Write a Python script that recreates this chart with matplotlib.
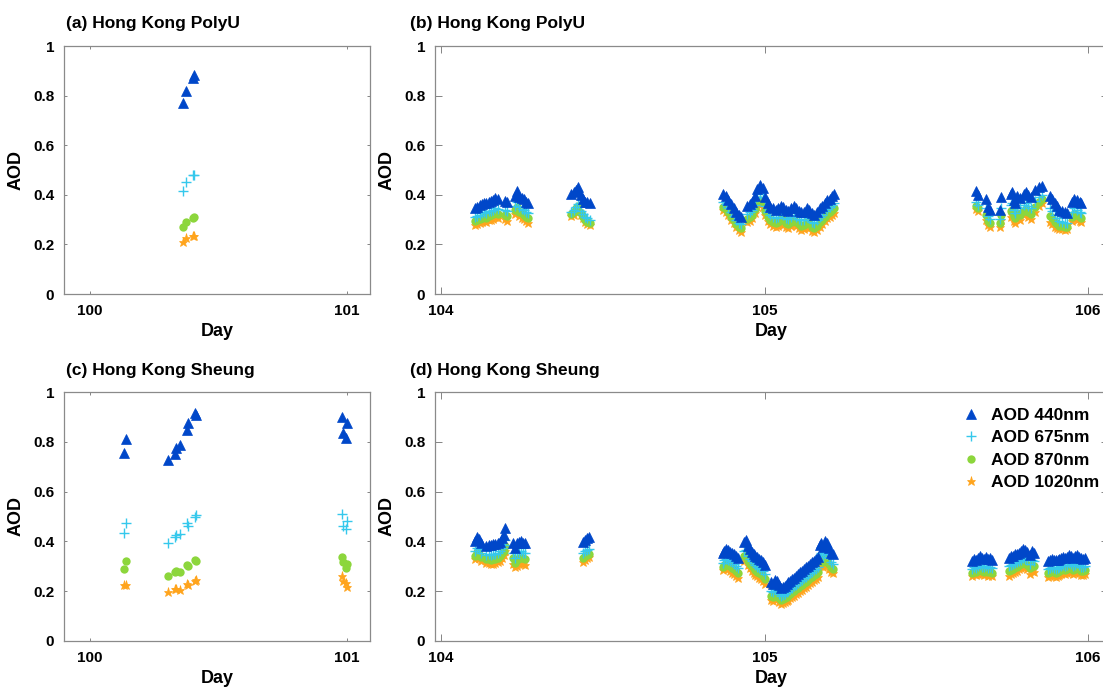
import numpy as np
import matplotlib
matplotlib.use('Agg')
import matplotlib.pyplot as plt

plt.rcParams['font.family'] = ['Liberation Sans', 'DejaVu Sans']
plt.rcParams['font.weight'] = 'bold'

# ---- data: day of year and AOD per wavelength ----
# (a) Hong Kong PolyU, day 100
a_day = [100.362, 100.374, 100.400, 100.404]
a_440 = [0.772, 0.820, 0.872, 0.884]
a_675 = [0.416, 0.450, 0.478, 0.480]
a_870 = [0.272, 0.290, 0.306, 0.310]
a_1020 = [0.210, 0.224, 0.232, 0.234]

# (b) Hong Kong PolyU, days 104-106
b_day = [104.105, 104.112, 104.119, 104.126, 104.133, 104.140, 104.147, 104.154, 104.161, 104.168,
         104.175, 104.198, 104.205, 104.228, 104.235, 104.242, 104.249, 104.256, 104.263, 104.270,
         104.403, 104.410, 104.417, 104.424, 104.431, 104.438, 104.445, 104.452, 104.459,
         104.872, 104.880, 104.888, 104.896, 104.904, 104.912, 104.920, 104.928, 104.946, 104.954,
         104.962, 104.970, 104.978, 104.986, 104.994, 105.002, 105.010, 105.018, 105.026, 105.034,
         105.042, 105.050, 105.058, 105.066, 105.074, 105.082, 105.090, 105.098, 105.106, 105.114,
         105.122, 105.130, 105.138, 105.146, 105.154, 105.162, 105.170, 105.178, 105.186, 105.194,
         105.202, 105.210, 105.216,
         105.653, 105.660, 105.684, 105.692, 105.698, 105.728, 105.732, 105.762, 105.766, 105.770,
         105.775, 105.782, 105.790, 105.802, 105.808, 105.816, 105.824, 105.836, 105.848, 105.857,
         105.884, 105.890, 105.898, 105.904, 105.912, 105.920, 105.928, 105.936, 105.950, 105.958,
         105.966, 105.974, 105.980]
b_440 = [0.345, 0.352, 0.357, 0.362, 0.368, 0.366, 0.372, 0.375, 0.380, 0.388,
         0.384, 0.377, 0.372, 0.395, 0.415, 0.392, 0.386, 0.382, 0.372, 0.368,
         0.405, 0.412, 0.420, 0.430, 0.398, 0.385, 0.372, 0.370, 0.368,
         0.405, 0.395, 0.380, 0.362, 0.345, 0.330, 0.318, 0.312, 0.355, 0.362,
         0.372, 0.395, 0.425, 0.440, 0.428, 0.390, 0.365, 0.350, 0.345, 0.340,
         0.345, 0.355, 0.350, 0.338, 0.335, 0.345, 0.355, 0.345, 0.335, 0.330,
         0.332, 0.345, 0.340, 0.325, 0.318, 0.330, 0.345, 0.355, 0.368, 0.378,
         0.385, 0.395, 0.402,
         0.415, 0.400, 0.384, 0.350, 0.338, 0.337, 0.390, 0.405, 0.412, 0.378,
         0.365, 0.395, 0.388, 0.405, 0.412, 0.398, 0.392, 0.420, 0.430, 0.436,
         0.395, 0.385, 0.365, 0.355, 0.340, 0.335, 0.330, 0.325, 0.370, 0.385,
         0.380, 0.372, 0.365]
b_675 = [0.310, 0.316, 0.320, 0.325, 0.330, 0.326, 0.333, 0.336, 0.340, 0.348,
         0.344, 0.338, 0.333, 0.356, 0.372, 0.350, 0.344, 0.340, 0.330, 0.326,
         0.330, 0.338, 0.352, 0.362, 0.335, 0.322, 0.310, 0.305, 0.300,
         0.372, 0.362, 0.348, 0.330, 0.314, 0.300, 0.288, 0.282, 0.322, 0.330,
         0.339, 0.360, 0.390, 0.402, 0.392, 0.355, 0.332, 0.318, 0.312, 0.308,
         0.312, 0.321, 0.317, 0.305, 0.302, 0.312, 0.320, 0.312, 0.302, 0.297,
         0.299, 0.310, 0.306, 0.292, 0.286, 0.297, 0.310, 0.320, 0.333, 0.343,
         0.350, 0.359, 0.366,
         0.372, 0.360, 0.345, 0.315, 0.303, 0.302, 0.345, 0.360, 0.367, 0.337,
         0.326, 0.352, 0.345, 0.360, 0.367, 0.354, 0.348, 0.375, 0.392, 0.400,
         0.346, 0.336, 0.318, 0.308, 0.296, 0.292, 0.288, 0.285, 0.330, 0.345,
         0.340, 0.332, 0.326]
b_870 = [0.293, 0.298, 0.302, 0.306, 0.311, 0.308, 0.314, 0.317, 0.321, 0.328,
         0.324, 0.318, 0.313, 0.338, 0.352, 0.331, 0.325, 0.320, 0.311, 0.306,
         0.322, 0.330, 0.348, 0.356, 0.326, 0.312, 0.298, 0.292, 0.288,
         0.352, 0.344, 0.330, 0.312, 0.297, 0.283, 0.271, 0.265, 0.304, 0.311,
         0.320, 0.341, 0.369, 0.380, 0.369, 0.334, 0.311, 0.298, 0.292, 0.288,
         0.292, 0.301, 0.297, 0.286, 0.282, 0.291, 0.299, 0.291, 0.281, 0.276,
         0.278, 0.289, 0.285, 0.272, 0.266, 0.276, 0.289, 0.299, 0.312, 0.322,
         0.329, 0.337, 0.345,
         0.355, 0.346, 0.320, 0.294, 0.286, 0.285, 0.320, 0.334, 0.340, 0.314,
         0.305, 0.326, 0.319, 0.336, 0.343, 0.329, 0.322, 0.350, 0.372, 0.384,
         0.315, 0.306, 0.292, 0.284, 0.276, 0.274, 0.271, 0.270, 0.310, 0.322,
         0.317, 0.310, 0.305]
b_1020 = [0.278, 0.282, 0.286, 0.290, 0.294, 0.291, 0.297, 0.300, 0.304, 0.310,
          0.307, 0.301, 0.296, 0.322, 0.338, 0.315, 0.308, 0.302, 0.293, 0.288,
          0.315, 0.320, 0.335, 0.340, 0.318, 0.305, 0.290, 0.282, 0.278,
          0.340, 0.332, 0.318, 0.300, 0.285, 0.270, 0.258, 0.252, 0.290, 0.296,
          0.305, 0.325, 0.352, 0.362, 0.350, 0.318, 0.295, 0.282, 0.276, 0.272,
          0.276, 0.284, 0.280, 0.270, 0.266, 0.274, 0.282, 0.274, 0.265, 0.260,
          0.262, 0.272, 0.268, 0.255, 0.250, 0.260, 0.272, 0.282, 0.295, 0.305,
          0.312, 0.320, 0.328,
          0.342, 0.335, 0.300, 0.278, 0.272, 0.270, 0.300, 0.312, 0.318, 0.296,
          0.288, 0.305, 0.298, 0.318, 0.325, 0.310, 0.302, 0.330, 0.355, 0.368,
          0.290, 0.282, 0.272, 0.266, 0.262, 0.262, 0.260, 0.262, 0.295, 0.305,
          0.300, 0.294, 0.290]

# (c) Hong Kong Sheung, days 100-101
c_day = [100.133, 100.140, 100.302, 100.330, 100.333, 100.350, 100.377, 100.381, 100.410, 100.414,
         100.980, 100.985, 100.995, 101.000]
c_440 = [0.756, 0.812, 0.728, 0.752, 0.776, 0.788, 0.848, 0.876, 0.916, 0.908,
         0.900, 0.836, 0.816, 0.876]
c_675 = [0.432, 0.472, 0.392, 0.416, 0.424, 0.428, 0.472, 0.462, 0.500, 0.506,
         0.512, 0.460, 0.448, 0.480]
c_870 = [0.288, 0.320, 0.260, 0.276, 0.280, 0.276, 0.304, 0.300, 0.324, 0.320,
         0.336, 0.316, 0.292, 0.310]
c_1020 = [0.224, 0.226, 0.196, 0.208, 0.210, 0.204, 0.228, 0.226, 0.240, 0.246,
          0.260, 0.240, 0.232, 0.216]

# (d) Hong Kong Sheung, days 104-106
d_day = [104.104, 104.110, 104.116, 104.122, 104.140, 104.147, 104.154, 104.161, 104.168, 104.175,
         104.182, 104.189, 104.194, 104.198, 104.222, 104.228, 104.234, 104.240, 104.246, 104.252,
         104.258,
         104.440, 104.446, 104.452, 104.458,
         104.870, 104.876, 104.882, 104.888, 104.894, 104.900, 104.906, 104.912, 104.918,
         104.936, 104.942, 104.948, 104.954, 104.960, 104.966, 104.972, 104.978, 104.984, 104.990,
         104.996, 105.002,
         105.020, 105.026, 105.032, 105.038, 105.044, 105.050, 105.056, 105.062, 105.068, 105.074,
         105.080, 105.086, 105.092, 105.098, 105.104, 105.110, 105.116, 105.122, 105.128, 105.134,
         105.140, 105.146, 105.152, 105.158, 105.164,
         105.170, 105.176, 105.182, 105.188, 105.194, 105.200, 105.206, 105.212,
         105.642, 105.648, 105.654, 105.660, 105.666, 105.672, 105.678, 105.684, 105.690, 105.696,
         105.702,
         105.756, 105.762, 105.768, 105.774, 105.780, 105.786, 105.792, 105.798, 105.804, 105.810,
         105.822, 105.828, 105.834,
         105.876, 105.882, 105.888, 105.894, 105.900, 105.906, 105.912, 105.918, 105.924, 105.930,
         105.936, 105.942, 105.948, 105.954, 105.960, 105.966, 105.972, 105.978, 105.984, 105.990]
d_440 = [0.400, 0.418, 0.410, 0.395, 0.382, 0.386, 0.385, 0.388, 0.388, 0.392,
         0.398, 0.412, 0.425, 0.452, 0.395, 0.372, 0.392, 0.398, 0.400, 0.395,
         0.392,
         0.398, 0.405, 0.412, 0.418,
         0.352, 0.362, 0.368, 0.365, 0.358, 0.355, 0.350, 0.340, 0.332,
         0.398, 0.405, 0.380, 0.368, 0.358, 0.350, 0.342, 0.336, 0.330, 0.326,
         0.318, 0.305,
         0.235, 0.230, 0.245, 0.240, 0.225, 0.212, 0.215, 0.222, 0.228, 0.235,
         0.242, 0.248, 0.255, 0.262, 0.270, 0.276, 0.282, 0.290, 0.296, 0.302,
         0.310, 0.316, 0.322, 0.330, 0.338,
         0.385, 0.395, 0.378, 0.400, 0.392, 0.372, 0.355, 0.348,
         0.322, 0.328, 0.326, 0.335, 0.340, 0.332, 0.330, 0.336, 0.328, 0.332,
         0.326,
         0.335, 0.340, 0.342, 0.348, 0.350, 0.355, 0.360, 0.368, 0.365, 0.358,
         0.345, 0.362, 0.355,
         0.322, 0.326, 0.328, 0.325, 0.324, 0.327, 0.330, 0.332, 0.336, 0.334,
         0.338, 0.345, 0.342, 0.335, 0.340, 0.346, 0.338, 0.332, 0.330, 0.334]
d_675 = [0.360, 0.375, 0.368, 0.355, 0.345, 0.348, 0.346, 0.350, 0.350, 0.354,
         0.360, 0.372, 0.384, 0.405, 0.355, 0.335, 0.352, 0.358, 0.360, 0.355,
         0.352,
         0.352, 0.360, 0.365, 0.370,
         0.315, 0.325, 0.330, 0.327, 0.320, 0.316, 0.311, 0.302, 0.294,
         0.360, 0.366, 0.343, 0.331, 0.321, 0.313, 0.305, 0.299, 0.293, 0.289,
         0.281, 0.269,
         0.200, 0.195, 0.208, 0.204, 0.190, 0.180, 0.183, 0.189, 0.195, 0.201,
         0.208, 0.213, 0.220, 0.226, 0.233, 0.239, 0.245, 0.252, 0.258, 0.264,
         0.272, 0.278, 0.284, 0.291, 0.299,
         0.345, 0.355, 0.339, 0.358, 0.351, 0.333, 0.317, 0.311,
         0.290, 0.296, 0.294, 0.300, 0.305, 0.298, 0.296, 0.302, 0.294, 0.298,
         0.292,
         0.300, 0.305, 0.308, 0.313, 0.316, 0.322, 0.326, 0.334, 0.331, 0.324,
         0.310, 0.326, 0.320,
         0.290, 0.294, 0.296, 0.293, 0.291, 0.295, 0.298, 0.300, 0.304, 0.302,
         0.306, 0.312, 0.309, 0.302, 0.307, 0.313, 0.305, 0.299, 0.297, 0.301]
d_870 = [0.343, 0.356, 0.350, 0.337, 0.328, 0.328, 0.326, 0.329, 0.330, 0.335,
         0.340, 0.352, 0.363, 0.382, 0.332, 0.315, 0.325, 0.332, 0.335, 0.332,
         0.328,
         0.335, 0.340, 0.346, 0.350,
         0.298, 0.307, 0.311, 0.307, 0.300, 0.294, 0.288, 0.280, 0.273,
         0.340, 0.346, 0.323, 0.311, 0.301, 0.293, 0.285, 0.279, 0.273, 0.268,
         0.260, 0.249,
         0.182, 0.177, 0.190, 0.186, 0.174, 0.165, 0.168, 0.173, 0.178, 0.184,
         0.190, 0.195, 0.201, 0.207, 0.213, 0.219, 0.225, 0.232, 0.238, 0.244,
         0.252, 0.258, 0.264, 0.271, 0.279,
         0.322, 0.332, 0.317, 0.335, 0.328, 0.311, 0.297, 0.291,
         0.275, 0.280, 0.278, 0.284, 0.288, 0.282, 0.279, 0.285, 0.277, 0.281,
         0.275,
         0.282, 0.287, 0.290, 0.296, 0.299, 0.305, 0.309, 0.316, 0.313, 0.307,
         0.292, 0.306, 0.300,
         0.274, 0.278, 0.280, 0.277, 0.275, 0.279, 0.282, 0.284, 0.288, 0.286,
         0.289, 0.295, 0.292, 0.286, 0.290, 0.296, 0.288, 0.282, 0.280, 0.284]
d_1020 = [0.330, 0.340, 0.335, 0.322, 0.315, 0.312, 0.308, 0.310, 0.312, 0.318,
          0.322, 0.335, 0.345, 0.360, 0.310, 0.296, 0.300, 0.308, 0.312, 0.310,
          0.306,
          0.318, 0.325, 0.332, 0.336,
          0.285, 0.292, 0.295, 0.290, 0.282, 0.275, 0.268, 0.260, 0.255,
          0.322, 0.328, 0.305, 0.292, 0.282, 0.274, 0.266, 0.260, 0.254, 0.248,
          0.240, 0.230,
          0.165, 0.160, 0.172, 0.168, 0.158, 0.150, 0.152, 0.156, 0.160, 0.166,
          0.172, 0.176, 0.182, 0.188, 0.194, 0.200, 0.206, 0.212, 0.218, 0.224,
          0.232, 0.238, 0.244, 0.250, 0.258,
          0.300, 0.310, 0.296, 0.312, 0.305, 0.290, 0.278, 0.272,
          0.262, 0.268, 0.265, 0.270, 0.274, 0.268, 0.264, 0.270, 0.262, 0.266,
          0.260,
          0.262, 0.268, 0.272, 0.278, 0.282, 0.288, 0.292, 0.298, 0.296, 0.290,
          0.270, 0.282, 0.276,
          0.258, 0.262, 0.265, 0.260, 0.258, 0.262, 0.266, 0.268, 0.272, 0.270,
          0.272, 0.278, 0.276, 0.270, 0.274, 0.280, 0.272, 0.266, 0.264, 0.268]

labels = ['AOD 440nm', 'AOD 675nm', 'AOD 870nm', 'AOD 1020nm']
titles = ['(a) Hong Kong PolyU', '(b) Hong Kong PolyU', '(c) Hong Kong Sheung', '(d) Hong Kong Sheung']
yticks = [0, 0.2, 0.4, 0.6, 0.8, 1]
ytick_labels = ['0', '0.2', '0.4', '0.6', '0.8', '1']

styles = [dict(marker='^', color='#0047c9', ms=6.5, mew=0.5),
          dict(marker='+', color='#35c8ec', ms=7, mew=1.0),
          dict(marker='o', color='#8cd63c', ms=6, mew=0),
          dict(marker='*', color='#ffa41c', ms=6.5, mew=0.5)]

W, H = 1103, 693
fig = plt.figure(figsize=(W / 100, H / 100), dpi=100)


def px_axes(x0, x1, ytop, ybot):
    return fig.add_axes([x0 / W, 1 - ybot / H, (x1 - x0) / W, (ybot - ytop) / H])


ax_a = px_axes(64, 370, 46, 294)
ax_b = px_axes(435, 1108, 46, 294)
ax_c = px_axes(64, 370, 392, 641)
ax_d = px_axes(435, 1108, 392, 641)

# (axis, days, series, xlim, xticks, tick length in points)
panels = [
    (ax_a, a_day, [a_440, a_675, a_870, a_1020], (99.899, 101.089), [100, 101], 2.2),
    (ax_b, b_day, [b_440, b_675, b_870, b_1020], (103.981, 106.062), [104, 105, 106], 4.8),
    (ax_c, c_day, [c_440, c_675, c_870, c_1020], (99.899, 101.089), [100, 101], 2.2),
    (ax_d, d_day, [d_440, d_675, d_870, d_1020], (103.981, 106.062), [104, 105, 106], 4.8),
]

for ax, days, series, xlim, xticks, tlen in panels:
    # draw longest wavelength first so 440nm sits on top
    for vals, st, lab in reversed(list(zip(series, styles, labels))):
        ax.plot(days, vals, linestyle='none', marker=st['marker'], color=st['color'],
                markersize=st['ms'], markeredgewidth=st['mew'], label=lab)
    ax.set_xlim(*xlim)
    ax.set_ylim(0, 1)
    ax.set_xticks(xticks)
    ax.set_xticklabels([str(t) for t in xticks])
    ax.set_yticks(yticks)
    ax.set_yticklabels(ytick_labels)
    ax.tick_params(direction='in', length=tlen, width=0.6, color='#707070',
                   top=True, right=True, labelsize=11)
    ax.tick_params(axis='x', pad=7)
    ax.tick_params(axis='y', pad=7 + (tlen - 2.2) * 0)
    for lab in ax.get_xticklabels() + ax.get_yticklabels():
        lab.set_fontweight('bold')
    for sp in ax.spines.values():
        sp.set_color('#8a8a8a')
        sp.set_linewidth(0.9)
    ax.set_xlabel('Day', fontsize=13, fontweight='bold', labelpad=4)
    ax.set_ylabel('AOD', fontsize=13, fontweight='bold', labelpad=6)

# panel titles
fig.text(66 / W, 1 - 28 / H, titles[0], fontsize=12.5, fontweight='bold', va='baseline')
fig.text(410 / W, 1 - 28 / H, titles[1], fontsize=12.5, fontweight='bold', va='baseline')
fig.text(66 / W, 1 - 375 / H, titles[2], fontsize=12.5, fontweight='bold', va='baseline')
fig.text(410 / W, 1 - 375 / H, titles[3], fontsize=12.5, fontweight='bold', va='baseline')

h, l = ax_d.get_legend_handles_labels()
ax_d.legend(h[::-1], l[::-1], loc='upper left', bbox_to_anchor=(0.77, 0.965), frameon=False,
            prop={'size': 12.5, 'weight': 'bold'}, handlelength=1.2, handletextpad=0.6,
            labelspacing=0.42, borderaxespad=0)

fig.savefig('out.png', dpi=100)
